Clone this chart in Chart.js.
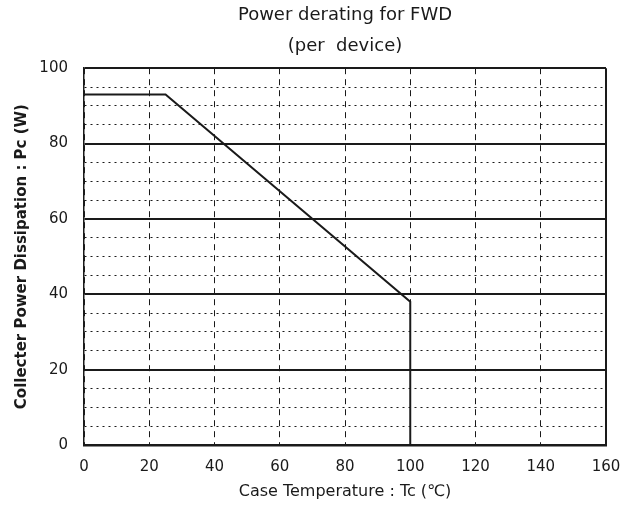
<!DOCTYPE html>
<html lang="en">
<head>
    <meta charset="UTF-8">
    <title>Power derating for FWD</title>
    <script src="https://cdn.jsdelivr.net/npm/chart.js"></script>
    <style>
        body { margin: 0; background: #fff; }
        #wrap { width: 622px; height: 509px; }
    </style>
</head>
<body>
    <div id="wrap"><canvas id="chart"></canvas></div>
    <script>
        // Derating curve (per device)
        var caseTemp = [0, 25, 100, 100];
        var powerDiss = [93, 93, 38, 0];
        var xTicks = [0, 20, 40, 60, 80, 100, 120, 140, 160];
        var yTicks = [0, 20, 40, 60, 80, 100];
        var yMinor = [0, 5, 10, 15, 20, 25, 30, 35, 40, 45, 50, 55, 60, 65, 70, 75, 80, 85, 90, 95, 100];

        var points = caseTemp.map(function(t, i) { return { x: t, y: powerDiss[i] }; });
        var ink = '#1a1a1a';

        new Chart(document.getElementById('chart'), {
            type: 'scatter',
            data: {
                datasets: [{
                    data: points,
                    showLine: true,
                    borderColor: ink,
                    borderWidth: 2,
                    pointRadius: 0,
                    tension: 0
                }]
            },
            options: {
                responsive: true,
                maintainAspectRatio: false,
                animation: false,
                layout: { padding: { top: 0, right: 0, left: 0, bottom: 8 } },
                plugins: {
                    legend: { display: false },
                    tooltip: { enabled: false },
                    title: {
                        display: true,
                        fullSize: false,
                        text: ['Power derating for FWD', '(per  device)'],
                        color: ink,
                        font: { family: 'DejaVu Sans', size: 18, weight: 'normal', lineHeight: 1.7 },
                        padding: { top: 0, bottom: 7 }
                    }
                },
                scales: {
                    x: {
                        type: 'linear',
                        min: 0,
                        max: 160,
                        afterBuildTicks: function(axis) {
                            axis.ticks = xTicks.map(function(v) { return { value: v }; });
                        },
                        afterFit: function(axis) {
                            axis.height = 56;
                            axis.paddingRight = 16;
                        },
                        title: {
                            display: true,
                            text: 'Case Temperature : Tc (\u2103)',
                            color: ink,
                            font: { family: 'DejaVu Sans', size: 16 },
                            padding: { top: 0, bottom: 0 }
                        },
                        ticks: {
                            color: ink,
                            font: { family: 'DejaVu Sans', size: 15 },
                            padding: 13
                        },
                        grid: {
                            color: ink,
                            drawTicks: false,
                            lineWidth: function(ctx) { return ctx.tick && ctx.tick.value === 160 ? 2 : 1; }
                        },
                        border: {
                            display: true,
                            color: ink,
                            width: 2.5,
                            dash: function(ctx) {
                                return ctx.tick && ctx.tick.value === 160 ? [] : [6, 5];
                            }
                        }
                    },
                    y: {
                        min: 0,
                        max: 100,
                        afterBuildTicks: function(axis) {
                            axis.ticks = yMinor.map(function(v) { return { value: v }; });
                        },
                        afterFit: function(axis) {
                            axis.width = 84;
                        },
                        ticks: {
                            autoSkip: false,
                            color: ink,
                            font: { family: 'DejaVu Sans', size: 15 },
                            padding: 16,
                            callback: function(v) {
                                return yTicks.indexOf(v) >= 0 ? v : '';
                            }
                        },
                        title: {
                            display: true,
                            text: 'Collecter Power Dissipation : Pc (W)',
                            color: ink,
                            font: { family: 'DejaVu Sans', size: 15, weight: 'bold' },
                            padding: { top: 13, bottom: 0 }
                        },
                        grid: {
                            color: ink,
                            drawTicks: false,
                            lineWidth: function(ctx) {
                                if (!ctx.tick) return 1;
                                return ctx.tick.value % 20 === 0 ? 2 : 1;
                            }
                        },
                        border: {
                            display: true,
                            color: ink,
                            width: 1.5,
                            dash: function(ctx) {
                                if (!ctx.tick) return [];
                                return ctx.tick.value % 20 === 0 ? [] : [2, 4];
                            }
                        }
                    }
                }
            }
        });
    </script>
</body>
</html>
